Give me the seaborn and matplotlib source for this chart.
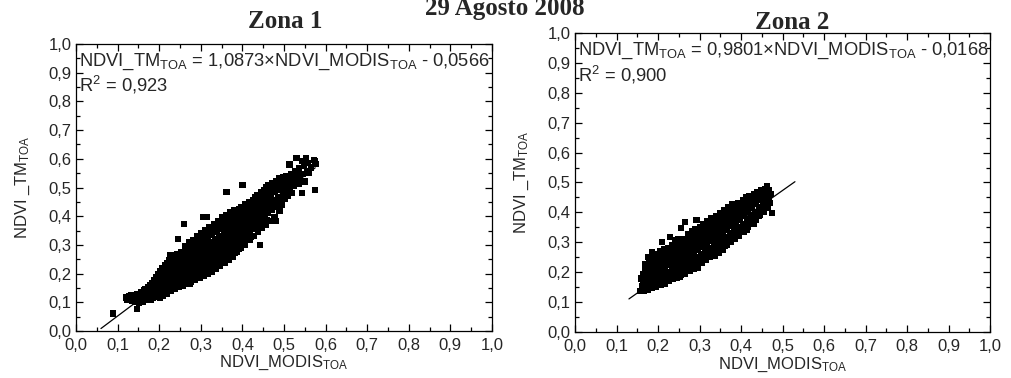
import matplotlib
matplotlib.use("Agg")
import matplotlib.pyplot as plt
import seaborn as sns
import pandas as pd

# NDVI (MODIS vs TM, top-of-atmosphere) samples, Zona 1
zona1_pairs = [
    (0.088, 0.061), (0.147, 0.077), (0.121, 0.117), (0.123, 0.109),
    (0.128, 0.121), (0.131, 0.111), (0.134, 0.104), (0.133, 0.126),
    (0.137, 0.116), (0.139, 0.108), (0.142, 0.123), (0.141, 0.100), (0.144, 0.112),
    (0.147, 0.129), (0.149, 0.119), (0.151, 0.108), (0.152, 0.099), (0.154, 0.124), (0.153, 0.114),
    (0.157, 0.134), (0.158, 0.118), (0.160, 0.106), (0.161, 0.127), (0.163, 0.112), (0.164, 0.141), (0.162, 0.100),
    (0.166, 0.121), (0.167, 0.146), (0.169, 0.109), (0.170, 0.133), (0.172, 0.115), (0.173, 0.152), (0.174, 0.126), (0.171, 0.139),
    (0.176, 0.118), (0.177, 0.161), (0.178, 0.131), (0.180, 0.110), (0.181, 0.145), (0.182, 0.123), (0.183, 0.168), (0.184, 0.137), (0.179, 0.152),
    (0.186, 0.114), (0.187, 0.176), (0.188, 0.128), (0.190, 0.157), (0.191, 0.119), (0.192, 0.142), (0.193, 0.188), (0.194, 0.134), (0.189, 0.166), (0.195, 0.149),
    (0.196, 0.124), (0.197, 0.197), (0.198, 0.139), (0.200, 0.172), (0.201, 0.117), (0.202, 0.155), (0.203, 0.209), (0.204, 0.131), (0.199, 0.184), (0.205, 0.163), (0.206, 0.146),
    (0.207, 0.127), (0.208, 0.218), (0.209, 0.158), (0.210, 0.192), (0.211, 0.136), (0.212, 0.174), (0.213, 0.229), (0.214, 0.148), (0.215, 0.203), (0.216, 0.166), (0.209, 0.121), (0.214, 0.184),
    (0.217, 0.135), (0.218, 0.236), (0.219, 0.171), (0.220, 0.208), (0.221, 0.144), (0.222, 0.188), (0.223, 0.247), (0.224, 0.157), (0.225, 0.221), (0.226, 0.179), (0.219, 0.128), (0.224, 0.198),
    (0.227, 0.263), (0.228, 0.139), (0.229, 0.218), (0.230, 0.176), (0.231, 0.244), (0.232, 0.151), (0.233, 0.199), (0.234, 0.162), (0.235, 0.231), (0.236, 0.187), (0.229, 0.254), (0.234, 0.209),
    (0.237, 0.146), (0.238, 0.258), (0.239, 0.184), (0.240, 0.227), (0.241, 0.159), (0.242, 0.208), (0.243, 0.268), (0.244, 0.171), (0.245, 0.241), (0.246, 0.196), (0.239, 0.219), (0.244, 0.251),
    (0.247, 0.152), (0.246, 0.321), (0.249, 0.192), (0.250, 0.236), (0.251, 0.164), (0.252, 0.216), (0.253, 0.276), (0.254, 0.179), (0.255, 0.251), (0.256, 0.203), (0.249, 0.263), (0.254, 0.229),
    (0.257, 0.158), (0.258, 0.268), (0.259, 0.199), (0.260, 0.243), (0.261, 0.172), (0.262, 0.226), (0.263, 0.286), (0.264, 0.186), (0.265, 0.258), (0.266, 0.212), (0.260, 0.373), (0.262, 0.297),
    (0.267, 0.165), (0.268, 0.279), (0.269, 0.207), (0.270, 0.251), (0.271, 0.179), (0.272, 0.234), (0.273, 0.297), (0.274, 0.193), (0.275, 0.266), (0.276, 0.221), (0.274, 0.165), (0.271, 0.308),
    (0.277, 0.172), (0.278, 0.291), (0.279, 0.214), (0.280, 0.259), (0.281, 0.186), (0.282, 0.243), (0.283, 0.306), (0.284, 0.201), (0.285, 0.274), (0.286, 0.229), (0.281, 0.318),
    (0.287, 0.178), (0.288, 0.302), (0.289, 0.222), (0.290, 0.268), (0.291, 0.193), (0.292, 0.251), (0.293, 0.317), (0.294, 0.208), (0.295, 0.284), (0.296, 0.237), (0.291, 0.329),
    (0.297, 0.184), (0.298, 0.313), (0.299, 0.229), (0.300, 0.277), (0.301, 0.199), (0.302, 0.259), (0.303, 0.328), (0.304, 0.215), (0.305, 0.293), (0.306, 0.245), (0.306, 0.396), (0.310, 0.200), (0.301, 0.341),
    (0.307, 0.191), (0.308, 0.324), (0.309, 0.237), (0.310, 0.285), (0.311, 0.207), (0.312, 0.268), (0.313, 0.338), (0.314, 0.222), (0.315, 0.302), (0.316, 0.253), (0.314, 0.398), (0.311, 0.352),
    (0.317, 0.199), (0.318, 0.336), (0.319, 0.245), (0.320, 0.294), (0.321, 0.214), (0.322, 0.276), (0.323, 0.349), (0.324, 0.231), (0.325, 0.311), (0.326, 0.261), (0.321, 0.362),
    (0.327, 0.207), (0.328, 0.347), (0.329, 0.254), (0.330, 0.303), (0.331, 0.223), (0.332, 0.285), (0.333, 0.359), (0.334, 0.239), (0.335, 0.321), (0.336, 0.269), (0.331, 0.372),
    (0.337, 0.216), (0.338, 0.357), (0.339, 0.263), (0.340, 0.312), (0.341, 0.231), (0.342, 0.294), (0.343, 0.369), (0.344, 0.248), (0.345, 0.331), (0.346, 0.278), (0.341, 0.384),
    (0.347, 0.226), (0.348, 0.367), (0.349, 0.272), (0.350, 0.322), (0.351, 0.241), (0.352, 0.304), (0.353, 0.379), (0.354, 0.257), (0.355, 0.341), (0.356, 0.288), (0.351, 0.396),
    (0.357, 0.236), (0.358, 0.376), (0.359, 0.282), (0.360, 0.331), (0.361, 0.251), (0.362, 0.313), (0.363, 0.389), (0.364, 0.267), (0.365, 0.351), (0.366, 0.298), (0.362, 0.485), (0.361, 0.405),
    (0.367, 0.247), (0.368, 0.386), (0.369, 0.291), (0.370, 0.341), (0.371, 0.269), (0.372, 0.323), (0.373, 0.398), (0.374, 0.278), (0.375, 0.361), (0.376, 0.307), (0.371, 0.414),
    (0.377, 0.259), (0.378, 0.395), (0.379, 0.301), (0.380, 0.351), (0.381, 0.272), (0.382, 0.333), (0.383, 0.408), (0.384, 0.292), (0.385, 0.371), (0.386, 0.317), (0.381, 0.422),
    (0.387, 0.274), (0.388, 0.405), (0.389, 0.311), (0.390, 0.361), (0.391, 0.287), (0.392, 0.343), (0.393, 0.417), (0.394, 0.327), (0.395, 0.381), (0.396, 0.432),
    (0.397, 0.289), (0.398, 0.414), (0.399, 0.322), (0.400, 0.371), (0.401, 0.304), (0.402, 0.353), (0.403, 0.426), (0.404, 0.338), (0.405, 0.391), (0.400, 0.510), (0.406, 0.441),
    (0.407, 0.301), (0.408, 0.423), (0.409, 0.333), (0.410, 0.381), (0.411, 0.316), (0.412, 0.363), (0.413, 0.436), (0.414, 0.348), (0.415, 0.400), (0.416, 0.449),
    (0.417, 0.318), (0.418, 0.432), (0.419, 0.344), (0.420, 0.391), (0.421, 0.328), (0.422, 0.373), (0.423, 0.445), (0.424, 0.358), (0.425, 0.409), (0.426, 0.457),
    (0.427, 0.331), (0.428, 0.441), (0.429, 0.355), (0.430, 0.401), (0.431, 0.466), (0.432, 0.383), (0.433, 0.453), (0.434, 0.368), (0.435, 0.418), (0.436, 0.475),
    (0.437, 0.344), (0.438, 0.449), (0.439, 0.366), (0.440, 0.411), (0.442, 0.299), (0.442, 0.393), (0.443, 0.462), (0.444, 0.378), (0.445, 0.427), (0.446, 0.484),
    (0.447, 0.358), (0.448, 0.458), (0.449, 0.377), (0.450, 0.421), (0.451, 0.492), (0.452, 0.403), (0.453, 0.471), (0.454, 0.389), (0.455, 0.436), (0.456, 0.501),
    (0.457, 0.371), (0.458, 0.467), (0.459, 0.388), (0.460, 0.431), (0.461, 0.509), (0.462, 0.413), (0.463, 0.479), (0.465, 0.445), (0.466, 0.496),
    (0.467, 0.384), (0.469, 0.476), (0.470, 0.441), (0.471, 0.517), (0.472, 0.423), (0.474, 0.488), (0.475, 0.456), (0.476, 0.503),
    (0.477, 0.397), (0.479, 0.484), (0.481, 0.384), (0.480, 0.451), (0.482, 0.524), (0.483, 0.433), (0.484, 0.496), (0.486, 0.466), (0.487, 0.509), (0.489, 0.419),
    (0.489, 0.531), (0.491, 0.492), (0.492, 0.461), (0.494, 0.441), (0.495, 0.514), (0.497, 0.477), (0.498, 0.537),
    (0.500, 0.501), (0.502, 0.462), (0.503, 0.523), (0.505, 0.486), (0.506, 0.541), (0.508, 0.509), (0.510, 0.471),
    (0.513, 0.580), (0.512, 0.529), (0.514, 0.497), (0.516, 0.548), (0.518, 0.516), (0.519, 0.482),
    (0.522, 0.537), (0.524, 0.505), (0.526, 0.556), (0.528, 0.521),
    (0.530, 0.604), (0.532, 0.545), (0.535, 0.514), (0.537, 0.568), (0.539, 0.533),
    (0.543, 0.482), (0.544, 0.591), (0.546, 0.547), (0.548, 0.575), (0.550, 0.521),
    (0.553, 0.603), (0.555, 0.557), (0.557, 0.584), (0.560, 0.551),
    (0.575, 0.592), (0.577, 0.583), (0.575, 0.490), (0.572, 0.596), (0.565, 0.570),
    (0.2215, 0.194), (0.2185, 0.226), (0.2315, 0.205), (0.2275, 0.240), (0.2405, 0.214), (0.2375, 0.246),
    (0.2515, 0.222), (0.2485, 0.244), (0.2605, 0.235), (0.2575, 0.276), (0.2715, 0.243), (0.2675, 0.288),
    (0.2805, 0.251), (0.2775, 0.282), (0.2835, 0.298), (0.2905, 0.259), (0.2875, 0.292), (0.2935, 0.309),
    (0.3005, 0.268), (0.2975, 0.303), (0.3035, 0.320), (0.3105, 0.276), (0.3075, 0.313), (0.3135, 0.331),
    (0.3205, 0.285), (0.3175, 0.324), (0.3235, 0.342), (0.3305, 0.294), (0.3275, 0.335), (0.3335, 0.352),
    (0.3405, 0.303), (0.3375, 0.346), (0.3435, 0.362), (0.3505, 0.313), (0.3475, 0.355), (0.3535, 0.372), (0.3525, 0.388),
    (0.3605, 0.322), (0.3575, 0.364), (0.3635, 0.381), (0.3615, 0.397), (0.3705, 0.332), (0.3675, 0.374), (0.3735, 0.390), (0.3725, 0.406),
    (0.3805, 0.342), (0.3775, 0.383), (0.3835, 0.400), (0.3825, 0.415), (0.3905, 0.352), (0.3875, 0.393), (0.3935, 0.408), (0.3925, 0.424),
    (0.4005, 0.362), (0.3975, 0.402), (0.4035, 0.418), (0.4015, 0.433), (0.4105, 0.372), (0.4075, 0.411), (0.4135, 0.428), (0.4115, 0.442),
    (0.4205, 0.382), (0.4175, 0.421), (0.4235, 0.437), (0.4215, 0.450), (0.4305, 0.392), (0.4275, 0.430), (0.4335, 0.446),
    (0.4405, 0.402), (0.4375, 0.438), (0.4435, 0.455), (0.4505, 0.412), (0.4475, 0.447), (0.4535, 0.464),
    (0.4605, 0.421), (0.4575, 0.457), (0.4635, 0.472), (0.4705, 0.431), (0.4675, 0.466),
    (0.165, 0.118), (0.175, 0.125), (0.185, 0.133), (0.195, 0.141), (0.205, 0.151), (0.215, 0.159),
    (0.185, 0.158), (0.195, 0.174), (0.205, 0.187), (0.215, 0.197),
]

# NDVI samples, Zona 2
zona2_pairs = [
    (0.158, 0.138), (0.161, 0.152), (0.163, 0.166), (0.159, 0.179), (0.164, 0.194), (0.162, 0.145), (0.165, 0.140), (0.166, 0.186),
    (0.167, 0.137), (0.172, 0.149), (0.169, 0.161), (0.174, 0.173), (0.168, 0.186), (0.171, 0.198), (0.173, 0.211), (0.169, 0.213), (0.170, 0.226), (0.175, 0.143),
    (0.176, 0.141), (0.182, 0.154), (0.179, 0.167), (0.184, 0.181), (0.177, 0.195), (0.181, 0.208), (0.183, 0.221), (0.178, 0.234), (0.180, 0.243), (0.177, 0.252), (0.184, 0.147),
    (0.186, 0.146), (0.192, 0.159), (0.189, 0.172), (0.194, 0.186), (0.187, 0.199), (0.191, 0.213), (0.193, 0.226), (0.188, 0.239), (0.190, 0.252), (0.194, 0.262), (0.186, 0.268),
    (0.196, 0.151), (0.202, 0.164), (0.199, 0.177), (0.204, 0.191), (0.197, 0.204), (0.201, 0.218), (0.203, 0.231), (0.198, 0.244), (0.200, 0.257), (0.204, 0.271), (0.196, 0.158),
    (0.206, 0.156), (0.212, 0.169), (0.209, 0.182), (0.214, 0.196), (0.207, 0.209), (0.211, 0.223), (0.213, 0.236), (0.208, 0.249), (0.210, 0.262), (0.214, 0.276), (0.210, 0.300),
    (0.216, 0.161), (0.222, 0.174), (0.219, 0.187), (0.224, 0.201), (0.217, 0.214), (0.221, 0.228), (0.223, 0.241), (0.218, 0.254), (0.220, 0.267), (0.224, 0.281),
    (0.226, 0.171), (0.232, 0.184), (0.229, 0.197), (0.234, 0.211), (0.227, 0.224), (0.231, 0.238), (0.233, 0.251), (0.228, 0.264), (0.230, 0.277), (0.234, 0.289), (0.229, 0.319),
    (0.236, 0.176), (0.242, 0.189), (0.239, 0.202), (0.244, 0.216), (0.237, 0.229), (0.241, 0.243), (0.243, 0.256), (0.238, 0.269), (0.240, 0.282), (0.244, 0.298), (0.242, 0.308),
    (0.246, 0.181), (0.252, 0.194), (0.249, 0.207), (0.254, 0.221), (0.247, 0.234), (0.251, 0.248), (0.253, 0.261), (0.248, 0.274), (0.250, 0.287), (0.254, 0.301), (0.253, 0.185), (0.255, 0.349), (0.249, 0.312),
    (0.256, 0.191), (0.262, 0.204), (0.259, 0.217), (0.264, 0.231), (0.257, 0.244), (0.261, 0.258), (0.263, 0.271), (0.258, 0.284), (0.260, 0.297), (0.264, 0.311), (0.265, 0.369),
    (0.266, 0.196), (0.272, 0.209), (0.269, 0.222), (0.274, 0.236), (0.267, 0.249), (0.271, 0.263), (0.273, 0.276), (0.268, 0.289), (0.270, 0.302), (0.274, 0.316), (0.272, 0.327),
    (0.276, 0.206), (0.282, 0.219), (0.279, 0.232), (0.284, 0.246), (0.277, 0.259), (0.281, 0.273), (0.283, 0.286), (0.278, 0.299), (0.280, 0.312), (0.284, 0.326), (0.282, 0.337),
    (0.286, 0.211), (0.292, 0.224), (0.289, 0.237), (0.294, 0.251), (0.287, 0.264), (0.291, 0.278), (0.293, 0.291), (0.288, 0.304), (0.290, 0.317), (0.294, 0.331), (0.289, 0.343), (0.293, 0.375),
    (0.296, 0.221), (0.302, 0.234), (0.299, 0.247), (0.304, 0.261), (0.297, 0.274), (0.301, 0.288), (0.303, 0.301), (0.298, 0.314), (0.300, 0.327), (0.304, 0.341), (0.297, 0.213), (0.301, 0.352),
    (0.306, 0.231), (0.312, 0.244), (0.309, 0.257), (0.314, 0.271), (0.307, 0.284), (0.311, 0.298), (0.313, 0.311), (0.308, 0.324), (0.310, 0.337), (0.314, 0.351), (0.309, 0.361),
    (0.316, 0.241), (0.322, 0.254), (0.319, 0.267), (0.324, 0.281), (0.317, 0.294), (0.321, 0.308), (0.323, 0.321), (0.318, 0.334), (0.320, 0.347), (0.324, 0.361), (0.319, 0.371),
    (0.326, 0.251), (0.332, 0.264), (0.329, 0.277), (0.334, 0.291), (0.327, 0.304), (0.331, 0.318), (0.333, 0.331), (0.328, 0.344), (0.330, 0.357), (0.334, 0.371), (0.329, 0.381),
    (0.336, 0.256), (0.342, 0.269), (0.339, 0.282), (0.344, 0.296), (0.337, 0.309), (0.341, 0.323), (0.343, 0.336), (0.338, 0.349), (0.340, 0.362), (0.344, 0.376), (0.339, 0.389),
    (0.346, 0.266), (0.352, 0.279), (0.349, 0.292), (0.354, 0.306), (0.347, 0.319), (0.351, 0.333), (0.353, 0.346), (0.348, 0.359), (0.350, 0.372), (0.354, 0.386), (0.349, 0.399),
    (0.356, 0.276), (0.362, 0.289), (0.359, 0.302), (0.364, 0.316), (0.357, 0.329), (0.361, 0.343), (0.363, 0.356), (0.358, 0.369), (0.360, 0.382), (0.364, 0.396), (0.359, 0.409),
    (0.366, 0.291), (0.372, 0.304), (0.369, 0.317), (0.374, 0.331), (0.367, 0.344), (0.371, 0.358), (0.373, 0.371), (0.368, 0.384), (0.370, 0.397), (0.374, 0.411), (0.369, 0.419),
    (0.376, 0.301), (0.382, 0.314), (0.379, 0.327), (0.384, 0.341), (0.377, 0.354), (0.381, 0.368), (0.383, 0.381), (0.378, 0.394), (0.380, 0.407), (0.384, 0.421), (0.379, 0.429),
    (0.386, 0.311), (0.392, 0.324), (0.389, 0.337), (0.394, 0.351), (0.387, 0.364), (0.391, 0.378), (0.393, 0.391), (0.388, 0.404), (0.390, 0.417), (0.394, 0.431),
    (0.396, 0.321), (0.402, 0.334), (0.399, 0.347), (0.404, 0.361), (0.397, 0.374), (0.401, 0.388), (0.403, 0.401), (0.398, 0.414), (0.400, 0.427), (0.404, 0.440),
    (0.406, 0.336), (0.412, 0.349), (0.409, 0.362), (0.414, 0.376), (0.407, 0.389), (0.411, 0.403), (0.413, 0.416), (0.408, 0.429), (0.410, 0.442), (0.414, 0.341), (0.412, 0.451),
    (0.416, 0.351), (0.422, 0.364), (0.419, 0.377), (0.424, 0.391), (0.417, 0.404), (0.421, 0.418), (0.423, 0.431), (0.418, 0.444), (0.420, 0.455),
    (0.426, 0.361), (0.432, 0.374), (0.429, 0.387), (0.434, 0.401), (0.427, 0.414), (0.431, 0.428), (0.433, 0.441), (0.428, 0.454), (0.430, 0.363), (0.432, 0.462),
    (0.436, 0.376), (0.442, 0.389), (0.439, 0.402), (0.444, 0.416), (0.437, 0.429), (0.441, 0.443), (0.443, 0.456), (0.438, 0.468),
    (0.446, 0.391), (0.452, 0.404), (0.449, 0.417), (0.454, 0.431), (0.447, 0.444), (0.451, 0.458), (0.453, 0.471), (0.448, 0.476),
    (0.456, 0.401), (0.462, 0.414), (0.459, 0.427), (0.464, 0.441), (0.457, 0.454), (0.461, 0.468), (0.462, 0.488), (0.458, 0.478),
    (0.466, 0.418), (0.469, 0.432), (0.467, 0.447), (0.471, 0.461), (0.468, 0.473), (0.474, 0.397), (0.466, 0.456),
    (0.1755, 0.163), (0.1725, 0.199), (0.1855, 0.172), (0.1825, 0.213), (0.1955, 0.181), (0.1925, 0.227),
    (0.2055, 0.187), (0.2025, 0.235), (0.2155, 0.192), (0.2125, 0.240), (0.2255, 0.197), (0.2225, 0.245),
    (0.2355, 0.206), (0.2325, 0.254), (0.2455, 0.213), (0.2425, 0.262), (0.2555, 0.217), (0.2525, 0.265),
    (0.2655, 0.227), (0.2625, 0.275), (0.2755, 0.232), (0.2725, 0.280), (0.2855, 0.242), (0.2825, 0.290),
    (0.2955, 0.247), (0.2925, 0.295), (0.3055, 0.257), (0.3025, 0.305), (0.3155, 0.267), (0.3125, 0.315),
    (0.3255, 0.277), (0.3225, 0.325), (0.3355, 0.287), (0.3325, 0.335), (0.3455, 0.292), (0.3425, 0.340),
    (0.3555, 0.302), (0.3525, 0.350), (0.3655, 0.312), (0.3625, 0.360), (0.3755, 0.327), (0.3725, 0.375),
    (0.3855, 0.337), (0.3825, 0.385), (0.3955, 0.347), (0.3925, 0.395), (0.4055, 0.357), (0.4025, 0.405),
    (0.4155, 0.368), (0.4125, 0.410), (0.4255, 0.382), (0.4225, 0.424), (0.4355, 0.391), (0.4325, 0.432),
    (0.4455, 0.404), (0.4425, 0.441), (0.4555, 0.416), (0.4525, 0.450), (0.4635, 0.424), (0.4605, 0.455),
]

# Linear fits (slope, intercept, R²) and the span each fitted line covers
zona1_fit = (1.0873, -0.0566, "0,923")
zona2_fit = (0.9801, -0.0168, "0,900")
zona1_line_span = [0.06, 0.575]
zona2_line_span = [0.13, 0.53]

tick_values = [0.0, 0.1, 0.2, 0.3, 0.4, 0.5, 0.6, 0.7, 0.8, 0.9, 1.0]
tick_labels = ["0,0", "0,1", "0,2", "0,3", "0,4", "0,5", "0,6", "0,7", "0,8", "0,9", "1,0"]
minor_ticks = [0.05, 0.15, 0.25, 0.35, 0.45, 0.55, 0.65, 0.75, 0.85, 0.95]

sns.set_style("ticks")
plt.rcParams["font.family"] = ["Liberation Sans", "DejaVu Sans"]
plt.rcParams["mathtext.fontset"] = "custom"
plt.rcParams["mathtext.rm"] = "Liberation Sans"
plt.rcParams["mathtext.it"] = "Liberation Sans"

fig = plt.figure(figsize=(10.12, 3.78), dpi=100)
ax1 = fig.add_axes([76 / 1012, 1 - 331 / 378, 416 / 1012, 287 / 378])
ax2 = fig.add_axes([575 / 1012, 1 - 332 / 378, 415 / 1012, 299 / 378])


def draw_panel(ax, pairs, fit, span, formula):
    df = pd.DataFrame(pairs, columns=["modis", "tm"])
    sns.scatterplot(data=df, x="modis", y="tm", marker="s", s=20,
                    color="black", edgecolor="none", linewidth=0, ax=ax)
    slope, intercept, r2 = fit
    line = pd.DataFrame({"modis": span})
    line["tm"] = slope * line["modis"] + intercept
    sns.lineplot(data=line, x="modis", y="tm", color="black", lw=0.9, ax=ax)

    ax.set_xlim(0, 1)
    ax.set_ylim(0, 1)
    ax.set_xticks(tick_values)
    ax.set_xticklabels(tick_labels)
    ax.set_yticks(tick_values)
    ax.set_yticklabels(tick_labels)
    ax.set_xticks(minor_ticks, minor=True)
    ax.set_yticks(minor_ticks, minor=True)
    ax.tick_params(which="both", direction="in", top=True, right=True,
                   width=0.9, color="black", labelsize=12)
    ax.tick_params(axis="x", which="major", pad=5)
    ax.tick_params(axis="y", which="major", pad=3)
    ax.tick_params(which="major", length=5)
    ax.tick_params(which="minor", length=3)
    for sp in ax.spines.values():
        sp.set_linewidth(0.9)
        sp.set_color("black")

    ax.set_xlabel("NDVI_MODIS$_{\\mathregular{TOA}}$", fontsize=12)
    ax.set_ylabel("NDVI _TM$_{\\mathregular{TOA}}$", fontsize=12)
    ax.xaxis.set_label_coords(0.5, -0.08)
    ax.yaxis.set_label_coords(-0.105, 0.5)

    ax.text(0.008, 0.975, formula, transform=ax.transAxes, fontsize=13.2,
            ha="left", va="top")
    ax.text(0.008, 0.895, "R$^{\\mathregular{2}}$ = " + r2, transform=ax.transAxes,
            fontsize=13.2, ha="left", va="top")


draw_panel(ax1, zona1_pairs, zona1_fit, zona1_line_span,
           "NDVI_TM$_{\\mathregular{TOA}}$ = 1,0873×NDVI_MODIS$_{\\mathregular{TOA}}$ - 0,0566")
draw_panel(ax2, zona2_pairs, zona2_fit, zona2_line_span,
           "NDVI_TM$_{\\mathregular{TOA}}$ = 0,9801×NDVI_MODIS$_{\\mathregular{TOA}}$ - 0,0168")

serif = ["Liberation Serif", "DejaVu Serif"]
fig.text(505 / 1012, 1 - 15 / 378, "29 Agosto 2008", family=serif,
         fontweight="bold", fontsize=18, ha="center", va="baseline")
fig.text(285 / 1012, 1 - 28 / 378, "Zona 1", family=serif,
         fontweight="bold", fontsize=18, ha="center", va="baseline")
fig.text(792 / 1012, 1 - 29 / 378, "Zona 2", family=serif,
         fontweight="bold", fontsize=18, ha="center", va="baseline")

fig.savefig("out.png", dpi=100, facecolor="white")
